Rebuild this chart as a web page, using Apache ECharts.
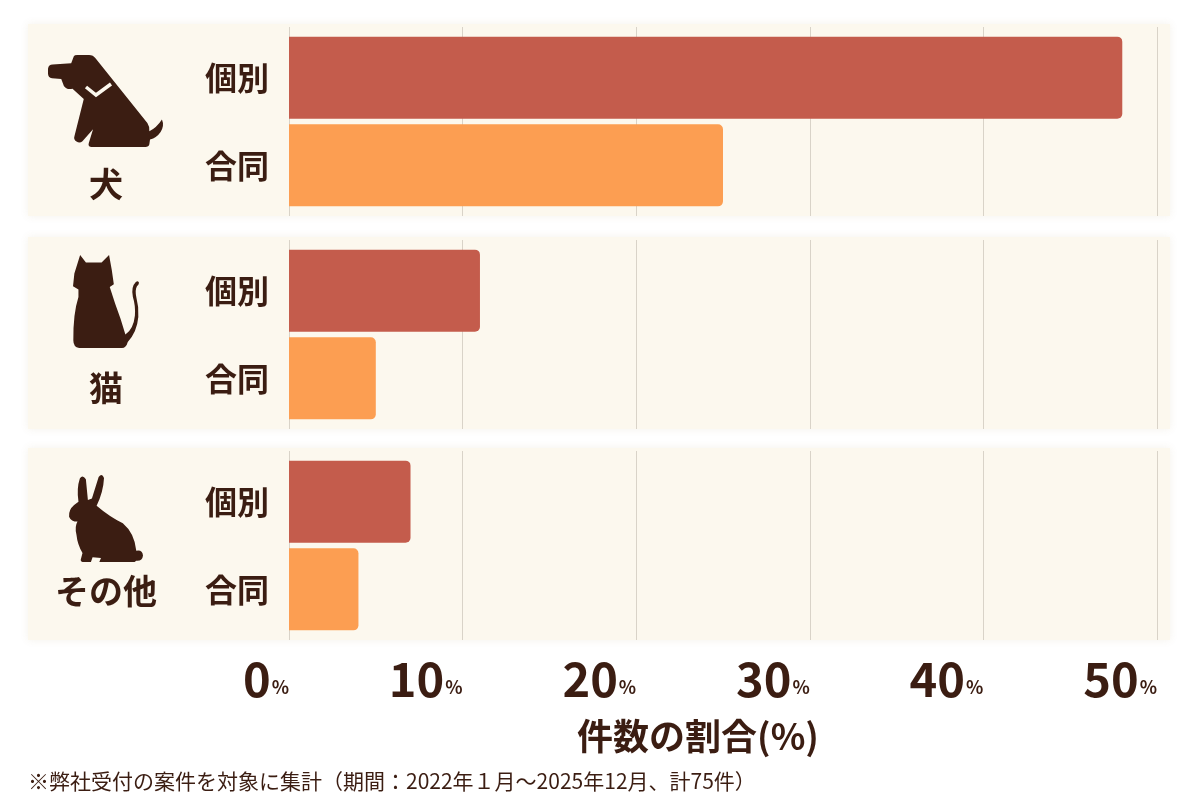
<!DOCTYPE html>
<html>
<head>
<meta charset="utf-8">
<script src="https://cdn.jsdelivr.net/npm/echarts@6/dist/echarts.min.js"></script>
<style>
  html, body { margin: 0; padding: 0; background: #fff; }
  #main { width: 1200px; height: 800px; }
</style>
</head>
<body>
<div id="main"></div>
<script>
// 動物別・件数の割合
const groups = ['犬', '猫', 'その他']
const kobetsu = [48, 11, 7]   // 個別
const goudou = [25, 5, 4]     // 合同
const seriesNames = ['個別', '合同']
const xMax = 50
const xStep = 10

const FONT = '"Noto Sans CJK JP", "Noto Sans", sans-serif'
const TEXT = '#3b1d12'
const PANEL = '#fcf8ee'
const barColors = ['#c45c4c', '#fc9e52']

// パネル位置
const panelTop = [24, 237, 448]
const panelH = 192

// 動物アイコン (左側)
const dogPath = 'M 100 38 Q 102 34 110 34 L 146 34 Q 158 34 166 44 L 322 232 Q 330 244 328 256 Q 350 246 366 222 Q 374 240 362 258 Q 350 275 330 280 L 328 294 Q 326 302 316 302 L 154 302 Q 142 301 145 291 L 158 250 L 126 285 Q 118 292 108 286 Q 98 280 102 270 L 130 162 Q 112 146 96 132 Q 78 136 70 124 L 62 104 L 34 102 Q 22 100 22 88 L 22 74 Q 24 62 36 62 L 92 58 Z'
const catPath = 'M 65 25 L 82 47 L 128 47 L 150 25 L 158 70 L 164 112 L 152 120 L 168 170 Q 185 215 198 262 Q 222 245 226 205 Q 228 175 220 150 Q 214 120 228 106 Q 236 100 238 108 Q 238 114 232 118 Q 226 128 230 150 Q 238 180 236 210 Q 232 255 205 284 Q 200 302 188 302 L 62 302 Q 45 300 45 280 Q 44 200 60 150 L 60 128 L 44 118 L 48 80 Z'
const rabbitPath = 'M 62 30 Q 70 16 80 32 L 86 95 L 98 90 L 118 25 Q 128 12 134 28 Q 132 70 112 112 Q 150 145 190 165 Q 225 195 230 248 Q 248 244 250 262 Q 248 280 230 278 L 225 282 L 120 282 L 125 270 L 100 268 L 95 282 L 70 282 Q 62 280 66 270 L 70 255 Q 55 230 52 200 Q 46 176 55 160 Q 36 160 30 145 Q 28 125 45 110 L 58 100 Q 52 60 62 30 Z'
const icons = [
  { d: dogPath, x: 48, y: 55, w: 115, h: 92 },
  { d: catPath, x: 73, y: 255, w: 66, h: 93 },
  { d: rabbitPath, x: 69, y: 475, w: 74, h: 87 }
]
const groupLabelY = [184, 388, 591]

const chart = echarts.init(document.getElementById('main'))

const grids = []
const xAxes = []
const yAxes = []
const series = []

groups.forEach((g, i) => {
  grids.push({ left: 289, right: 43, top: panelTop[i] + 3, height: panelH - 3 })
  const last = i === groups.length - 1
  xAxes.push({
    type: 'value',
    gridIndex: i,
    min: 0,
    max: xMax,
    interval: xStep,
    axisLine: { show: false },
    axisTick: { show: false },
    splitLine: { lineStyle: { color: '#d9d3c8', width: 1 } },
    axisLabel: {
      show: last,
      align: 'right',
      margin: 16,
      formatter: v => '{n|' + v + '}{p|%}',
      rich: {
        n: { fontFamily: FONT, fontSize: 47, fontWeight: 'bold', color: TEXT },
        p: { fontFamily: FONT, fontSize: 18, fontWeight: 'bold', color: TEXT, padding: [16, 0, 0, 1] }
      }
    }
  })
  yAxes.push({
    type: 'category',
    gridIndex: i,
    inverse: true,
    data: [g],
    axisLine: { show: false },
    axisTick: { show: false },
    axisLabel: { show: false }
  })
  const vals = [kobetsu[i], goudou[i]]
  seriesNames.forEach((name, k) => {
    series.push({
      name: name,
      type: 'bar',
      xAxisIndex: i,
      yAxisIndex: i,
      barWidth: 82,
      barGap: '7%',
      data: [vals[k]],
      itemStyle: { color: barColors[k], borderRadius: [0, 5, 5, 0] },
      label: {
        show: true,
        position: 'left',
        distance: 20,
        formatter: '{a}',
        fontFamily: FONT,
        fontSize: 32,
        fontWeight: 'bold',
        color: TEXT
      }
    })
  })
})

const graphic = []
panelTop.forEach(t => {
  graphic.push({
    type: 'rect',
    z: -10,
    shape: { x: 28, y: t, width: 1142, height: panelH },
    style: { fill: PANEL, shadowBlur: 8, shadowColor: 'rgba(150,120,60,0.10)' }
  })
})
groups.forEach((g, i) => {
  graphic.push({
    type: 'text',
    z: 10,
    x: 106,
    y: groupLabelY[i],
    style: {
      text: g,
      fontFamily: FONT,
      fontSize: 34,
      fontWeight: 'bold',
      fill: TEXT,
      align: 'center',
      verticalAlign: 'middle'
    }
  })
})
// 軸タイトル
graphic.push({
  type: 'text',
  x: 698,
  y: 736,
  style: {
    text: '件数の割合(%)',
    fontFamily: FONT,
    fontSize: 36,
    fontWeight: 'bold',
    fill: TEXT,
    align: 'center',
    verticalAlign: 'middle'
  }
})
// 注記
graphic.push({
  type: 'text',
  x: 28,
  y: 781,
  style: {
    text: '※弊社受付の案件を対象に集計（期間：2022年１月～2025年12月、計75件）',
    fontFamily: FONT,
    fontSize: 21,
    fill: TEXT,
    align: 'left',
    verticalAlign: 'middle'
  }
})

chart.setOption({
  animation: false,
  backgroundColor: '#ffffff',
  grid: grids,
  xAxis: xAxes,
  yAxis: yAxes,
  series: series,
  graphic: graphic
})

// アイコンは zrender に直接追加
const zr = chart.getZr()
icons.forEach(ic => {
  const el = echarts.graphic.makePath(
    ic.d,
    { style: { fill: TEXT }, z: 5 },
    { x: ic.x, y: ic.y, width: ic.w, height: ic.h },
    'cover'
  )
  zr.add(el)
})
// 犬の首輪
const collar = new echarts.graphic.Polyline({
  shape: { points: [[86, 87], [96, 95], [111, 84]] },
  style: { stroke: PANEL, lineWidth: 3.5, fill: null },
  z: 6
})
zr.add(collar)
</script>
</body>
</html>
